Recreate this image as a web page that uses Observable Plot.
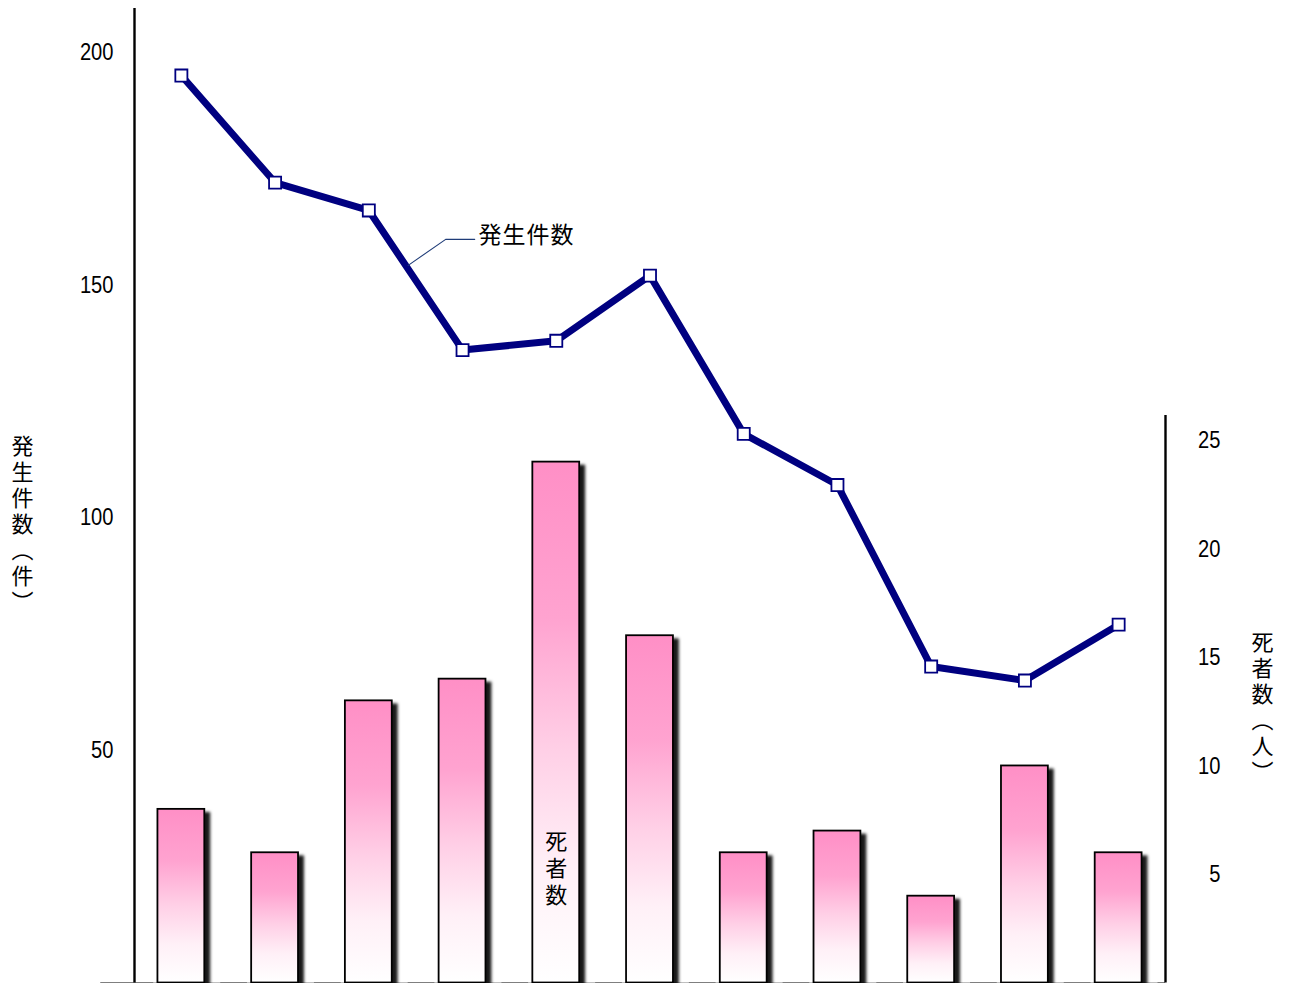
<!DOCTYPE html>
<html>
<head>
<meta charset="utf-8">
<script src="https://cdn.jsdelivr.net/npm/d3@7"></script>
<script src="https://cdn.jsdelivr.net/npm/@observablehq/plot@0.6"></script>
<style>
  html, body { margin: 0; padding: 0; background: #ffffff; }
  #chart svg { display: block; }
</style>
</head>
<body>
<div id="chart"></div>
<script>
// ---- data ----
const periods   = [1, 2, 3, 4, 5, 6, 7, 8, 9, 10, 11];
const incidents = [195, 172, 166, 136, 138, 152, 118, 107, 68, 65, 77];   // 発生件数（件） left axis
const deaths    = [8, 6, 13, 14, 24, 16, 6, 7, 4, 10, 6];                  // 死者数（人） right axis
const leftTicks  = [50, 100, 150, 200];
const rightTicks = [5, 10, 15, 20, 25];
const leftTitle  = "発生件数（件）";
const rightTitle = "死者数（人）";
const lineLabel  = "発生件数";
const barLabel   = "死者数";

// scale extents
const leftMax   = 209.4;   // top of left axis (件)
const deathsMax = 44.9;    // same height in 人
const rightAxisTop = 26.15; // right axis line ends here (人)

// annotation anchors (data units)
const leaderPts = [{x: 3.42, y: 154.2}, {x: 3.82, y: 159.8}, {x: 4.13, y: 159.8}];
const lineLabelPos = {x: 4.17, y: 160.6};
const barLabelPos  = {period: 5, deaths: 5.2};
const leftTitleY  = 98.2;   // 件
const rightTitleY = 59.0;   // 件-scale position of the right title

// ---- chart ----
const k = leftMax / deathsMax;
const rows = periods.map((p, i) => ({p, incidents: incidents[i], deaths: deaths[i]}));
const half = 0.25;
const numFont = "'Liberation Sans', Arial, sans-serif";
const jpFont = "'Noto Sans CJK JP', sans-serif";

const defs = () => {
  const g = d3.create("svg:defs");
  const grad = g.append("linearGradient").attr("id", "barGrad")
    .attr("x1", 0).attr("y1", 0).attr("x2", 0).attr("y2", 1);
  [[0, "#ff8fc6"], [0.3, "#ffa3d0"], [0.55, "#ffcfe6"], [0.78, "#fff0f7"], [1, "#ffffff"]]
    .forEach(([o, c]) => grad.append("stop").attr("offset", o).attr("stop-color", c));
  const f = g.append("filter").attr("id", "barShadow")
    .attr("x", "-20%").attr("y", "-10%").attr("width", "160%").attr("height", "130%");
  f.append("feDropShadow").attr("dx", 5).attr("dy", 4).attr("stdDeviation", 1.6)
    .attr("flood-color", "#000").attr("flood-opacity", 0.9);
  return g.node();
};

const plot = Plot.plot({
  width: 1290,
  height: 983,
  marginLeft: 134,
  marginRight: 125,
  marginTop: 8,
  marginBottom: 0.5,
  x: {domain: [0.5, 11.5], axis: null},
  y: {domain: [0, leftMax], axis: null},
  style: {background: "#ffffff", overflow: "visible", fontFamily: numFont},
  marks: [
    defs,
    Plot.ruleY([0], {x1: 0.14, x2: 11.5, stroke: "#000", strokeWidth: 1.2, clip: false}),
    Plot.rectY(rows, {x1: d => d.p - half - 0.045, x2: d => d.p + half + 0.17, y1: 0, y2: d => d.deaths * k, fill: "#ffffff"}),
    Plot.rectY(rows, {x1: d => d.p - half, x2: d => d.p + half, y1: 0, y2: d => d.deaths * k,
      fill: "url(#barGrad)", stroke: "#000", strokeWidth: 1.8}),
    Plot.ruleX([0.5], {y1: 0, y2: leftMax, stroke: "#000", strokeWidth: 2.4}),
    Plot.ruleX([11.5], {y1: 0, y2: rightAxisTop * k, stroke: "#000", strokeWidth: 2.4}),
    Plot.axisY(leftTicks, {anchor: "left", tickSize: 0, tickPadding: 21, fontSize: 24, fill: "#000"}),
    Plot.axisY(rightTicks.map(v => v * k), {anchor: "right", tickSize: 0, tickPadding: 55, textAnchor: "end",
      fontSize: 24, fill: "#000", tickFormat: d => String(Math.round(d / k))}),
    Plot.line(rows, {x: "p", y: "incidents", stroke: "#000080", strokeWidth: 7}),
    Plot.dot(rows, {x: "p", y: "incidents", symbol: "square", r: 6.8, fill: "#ffffff", stroke: "#000080", strokeWidth: 1.8}),
    Plot.line(leaderPts, {x: "x", y: "y", stroke: "#1f3c78", strokeWidth: 1.1}),
    Plot.text([lineLabel], {x: lineLabelPos.x, y: lineLabelPos.y, text: d => d, textAnchor: "start",
      fontSize: 23, fontFamily: jpFont, fill: "#000"}),
    Plot.text([barLabel], {x: barLabelPos.period, y: barLabelPos.deaths * k, text: d => d,
      fontSize: 22, fontFamily: jpFont, fill: "#000"}),
    Plot.text([leftTitle], {frameAnchor: "left", y: leftTitleY, dx: -112, text: d => d,
      fontSize: 22, fontFamily: jpFont, fill: "#000"}),
    Plot.text([rightTitle], {frameAnchor: "right", y: rightTitleY, dx: 97, text: d => d,
      fontSize: 22, fontFamily: jpFont, fill: "#000"})
  ]
});

const svg = d3.select(plot);
svg.selectAll("rect").filter(function() {
  return this.getAttribute("fill") === "url(#barGrad)" || (this.parentNode && this.parentNode.getAttribute("fill") === "url(#barGrad)");
}).attr("filter", "url(#barShadow)");

svg.selectAll("text").filter(function() { return this.textContent === lineLabel; })
  .style("letter-spacing", "1px");

const vertical = new Set([leftTitle, rightTitle, barLabel]);
const vtexts = svg.selectAll("text").filter(function() { return vertical.has(this.textContent); })
  .attr("dy", null)
  .attr("text-anchor", "start")
  .attr("writing-mode", "vertical-rl")
  .style("writing-mode", "vertical-rl")
  .style("text-orientation", "upright")
  .style("letter-spacing", function() { return this.textContent === barLabel ? "5px" : "4px"; });
svg.selectAll("text").filter(function() { return /^\d+$/.test(this.textContent); })
  .attr("lengthAdjust", "spacingAndGlyphs")
  .attr("textLength", function() { return this.textContent.length * 11.2; });

document.getElementById("chart").appendChild(plot);

// centre each vertical label on its anchor point
vtexts.each(function() {
  const ax = Number(this.getAttribute("x")) || 0;
  const ay = Number(this.getAttribute("y")) || 0;
  const b = this.getBBox();
  const sx = ax - (b.x + b.width / 2);
  const sy = ay - (b.y + b.height / 2);
  const t = this.getAttribute("transform") || "";
  this.setAttribute("transform", `${t} translate(${sx},${sy})`);
});
</script>
</body>
</html>
